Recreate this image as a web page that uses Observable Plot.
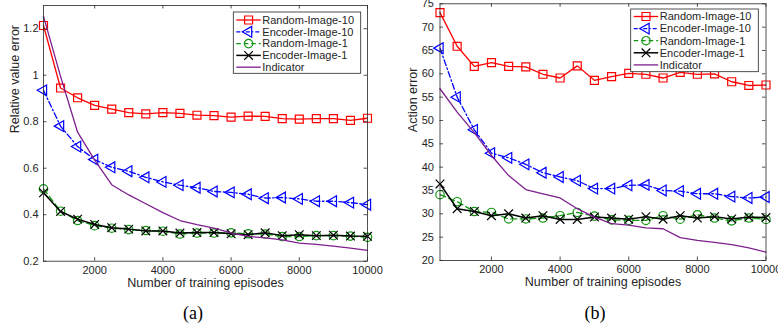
<!DOCTYPE html>
<html>
<head>
<meta charset="utf-8">
<script src="https://cdn.jsdelivr.net/npm/d3@7"></script>
<script src="https://cdn.jsdelivr.net/npm/@observablehq/plot@0.6"></script>
<style>
  html, body { margin: 0; padding: 0; background: #fff; }
  #fig { position: relative; width: 778px; height: 330px; font-family: "Liberation Sans", Arial, sans-serif; }
  #row { display: flex; position: absolute; left: 0; top: 0; }
  .cap { position: absolute; top: 300px; font-family: "Liberation Serif", "Times New Roman", serif; font-size: 18px; line-height: 26px; color: #000; transform: translateX(-50%); }
</style>
</head>
<body>
<div id="fig">
  <div id="row"><div id="pa"></div><div id="pb"></div></div>
  <div class="cap" style="left:193px">(a)</div>
  <div class="cap" style="left:595px">(b)</div>
</div>
<script>
// ---- data ----
const episodes = [500, 1000, 1500, 2000, 2500, 3000, 3500, 4000, 4500, 5000,
                  5500, 6000, 6500, 7000, 7500, 8000, 8500, 9000, 9500, 10000];
const seriesNames = ["Random-Image-10", "Encoder-Image-10", "Random-Image-1", "Encoder-Image-1", "Indicator"];
const xTicks = [2000, 4000, 6000, 8000, 10000];

// panel (a): relative value error
const aRandom10  = [1.214, 0.945, 0.903, 0.870, 0.854, 0.839, 0.834, 0.839, 0.836, 0.828,
                    0.826, 0.820, 0.824, 0.823, 0.813, 0.811, 0.813, 0.813, 0.806, 0.815];
const aEncoder10 = [0.935, 0.781, 0.693, 0.637, 0.604, 0.587, 0.561, 0.541, 0.527, 0.516,
                    0.500, 0.496, 0.488, 0.471, 0.474, 0.468, 0.458, 0.458, 0.452, 0.443];
const aRandom1   = [0.511, 0.415, 0.375, 0.353, 0.342, 0.336, 0.332, 0.329, 0.317, 0.321,
                    0.321, 0.322, 0.318, 0.317, 0.306, 0.306, 0.310, 0.310, 0.308, 0.303];
const aEncoder1  = [0.494, 0.414, 0.381, 0.358, 0.344, 0.338, 0.330, 0.330, 0.321, 0.323,
                    0.323, 0.318, 0.314, 0.322, 0.310, 0.314, 0.310, 0.312, 0.308, 0.307];
const aIndicator = [1.253, 0.995, 0.755, 0.635, 0.529, 0.485, 0.447, 0.409, 0.375, 0.357,
                    0.342, 0.322, 0.307, 0.300, 0.292, 0.278, 0.272, 0.265, 0.256, 0.247];
const aYTicks = [0.2, 0.4, 0.6, 0.8, 1, 1.2];

// panel (b): action error
const bRandom10  = [73.1, 65.9, 61.6, 62.4, 61.6, 61.5, 59.9, 59.1, 61.7, 58.6,
                    59.4, 60.1, 59.9, 59.1, 60.3, 59.9, 60.0, 58.3, 57.5, 57.6];
const bEncoder10 = [65.5, 55.0, 48.0, 43.0, 42.0, 40.6, 38.8, 37.9, 37.1, 35.4,
                    35.4, 36.1, 36.2, 35.0, 34.85, 34.3, 34.3, 33.7, 33.4, 33.6];
const bRandom1   = [34.1, 32.6, 30.5, 30.3, 28.9, 28.9, 29.1, 29.6, 30.3, 29.5,
                    28.7, 28.6, 28.6, 29.6, 28.85, 29.8, 29.1, 28.5, 29.1, 28.8];
const bEncoder1  = [36.4, 31.1, 30.5, 29.6, 30.0, 29.1, 29.6, 28.8, 28.8, 29.3,
                    29.1, 28.85, 29.4, 28.85, 29.6, 29.1, 29.4, 28.9, 29.3, 29.2];
const bIndicator = [56.8, 51.8, 47.4, 42.5, 38.2, 35.2, 34.3, 33.4, 31.1, 29.3,
                    27.9, 27.6, 27.0, 26.8, 24.9, 24.3, 23.9, 23.4, 22.7, 21.8];
const bYTicks = [20, 25, 30, 35, 40, 45, 50, 55, 60, 65, 70, 75];

// ---- styles ----
const TXT = "#262626";
const AX = "#262626";
const styles = {
  "Random-Image-10":  {stroke: "#ff0000", dash: null,          symbol: "square",   r: 4.5, rotate: 0,   width: 1.3},
  "Encoder-Image-10": {stroke: "#0000ff", dash: "6,2.5,1.5,2.5", symbol: "triangle", r: 4.0, rotate: -90, width: 1.3},
  "Random-Image-1":   {stroke: "#129612", dash: "6,3.5",       symbol: "circle",   r: 4.2, rotate: 0,   width: 1.3},
  "Encoder-Image-1":  {stroke: "#000000", dash: null,          symbol: "times",    r: 4.0, rotate: 0,   width: 1.5},
  "Indicator":        {stroke: "#7e1f8e", dash: null,          symbol: null,       r: 0,   rotate: 0,   width: 1.3}
};

function rows(values, name) {
  return episodes.map((e, i) => ({episode: e, value: values[i], series: name}));
}

function panel(o) {
  const plotH = o.height - o.marginTop - o.marginBottom;
  const plotW = o.width - o.marginLeft - o.marginRight;
  const marks = [];
  o.series.forEach(([name, vals]) => {
    const s = styles[name];
    const data = rows(vals, name);
    marks.push(Plot.line(data, {x: "episode", y: "value", stroke: s.stroke, strokeWidth: s.width,
      strokeDasharray: s.dash || undefined}));
    if (s.symbol) {
      marks.push(Plot.dot(data, {x: "episode", y: "value", symbol: s.symbol, r: s.r, rotate: s.rotate,
        stroke: s.stroke, fill: "none", strokeWidth: 1.2}));
    }
  });
  const svg = Plot.plot({
    width: o.width, height: o.height,
    marginLeft: o.marginLeft, marginRight: o.marginRight, marginTop: o.marginTop, marginBottom: o.marginBottom,
    style: {fontFamily: "'Liberation Sans', Arial, sans-serif", fontSize: "11px", color: TXT, background: "transparent", overflow: "visible"},
    x: {domain: [500, 10000]},
    y: {domain: o.yDomain},
    marks: [
      ...marks,
      Plot.frame({stroke: AX, strokeWidth: 0.8}),
      Plot.tickX(xTicks, {x: d => d, insetTop: plotH - 3.5, stroke: AX, strokeWidth: 0.8}),
      Plot.tickX(xTicks, {x: d => d, insetBottom: plotH - 3.5, stroke: AX, strokeWidth: 0.8}),
      Plot.tickY(o.yTicks, {y: d => d, insetRight: plotW - 3.5, stroke: AX, strokeWidth: 0.8}),
      Plot.tickY(o.yTicks, {y: d => d, insetLeft: plotW - 3.5, stroke: AX, strokeWidth: 0.8}),
      Plot.axisX(xTicks, {tickSize: 0, tickPadding: 5, tickFormat: d => String(d), label: null, fill: TXT, fontSize: 11}),
      Plot.axisY(o.yTicks, {tickSize: 0, tickPadding: o.yPad, tickFormat: d3.format("~g"), label: null, fill: TXT, fontSize: 11}),
      Plot.text(["Number of training episodes"], {text: d => d, frameAnchor: "bottom", dy: 25.3, fill: TXT, fontSize: 12.5}),
      Plot.text([o.yLabel], {text: d => d, frameAnchor: "left", rotate: -90, dx: o.yLabelDx, fill: TXT, fontSize: 12.5})
    ]
  });
  // legend (box in the upper right corner)
  const g = d3.select(svg).append("g").attr("transform", `translate(${o.legend.x},${o.legend.y})`)
    .attr("text-anchor", "start");
  const rowH = o.legend.rowH;
  g.append("rect").attr("x", 0).attr("y", 0).attr("width", o.legend.w).attr("height", o.legend.h)
    .attr("fill", "#fff").attr("stroke", AX).attr("stroke-width", 0.8);
  seriesNames.forEach((name, i) => {
    const s = styles[name];
    const cy = o.legend.first + i * rowH;
    g.append("line").attr("x1", 3).attr("x2", 27.5).attr("y1", cy).attr("y2", cy)
      .attr("stroke", s.stroke).attr("stroke-width", s.width)
      .attr("stroke-dasharray", s.dash ? (name === "Encoder-Image-10" ? "4,2,1.5,2" : "4.5,3") : null);
    if (s.symbol) {
      const sym = {square: d3.symbolSquare, triangle: d3.symbolTriangle, circle: d3.symbolCircle, times: d3.symbolTimes}[s.symbol];
      g.append("path").attr("d", d3.symbol(sym, Math.PI * s.r * s.r)())
        .attr("transform", `translate(15.3,${cy}) rotate(${s.rotate})`)
        .attr("fill", "none").attr("stroke", s.stroke).attr("stroke-width", 1.2);
    }
    g.append("text").attr("x", 29).attr("y", cy).attr("dy", "0.35em")
      .attr("text-anchor", "start")
      .attr("font-size", 11).attr("fill", TXT).text(name);
  });
  return svg;
}

document.getElementById("pa").appendChild(panel({
  width: 389, height: 300, marginLeft: 43, marginRight: 22, marginTop: 5, marginBottom: 39.3,
  yDomain: [0.2, 1.3], yTicks: aYTicks, yPad: 5, yLabel: "Relative value error", yLabelDx: -29,
  series: [["Random-Image-10", aRandom10], ["Encoder-Image-10", aEncoder10], ["Random-Image-1", aRandom1],
           ["Encoder-Image-1", aEncoder1], ["Indicator", aIndicator]],
  legend: {x: 233.3, y: 12, w: 127.4, h: 61.3, first: 8, rowH: 11.8}
}));

document.getElementById("pb").appendChild(panel({
  width: 389, height: 300, marginLeft: 50.5, marginRight: 12.5, marginTop: 3.3, marginBottom: 40,
  yDomain: [20, 75], yTicks: bYTicks, yPad: 6, yLabel: "Action error", yLabelDx: -27.5,
  series: [["Random-Image-10", bRandom10], ["Encoder-Image-10", bEncoder10], ["Random-Image-1", bRandom1],
           ["Encoder-Image-1", bEncoder1], ["Indicator", bIndicator]],
  legend: {x: 241.7, y: 9, w: 127.6, h: 62.7, first: 7.5, rowH: 12.1}
}));
</script>
</body>
</html>
